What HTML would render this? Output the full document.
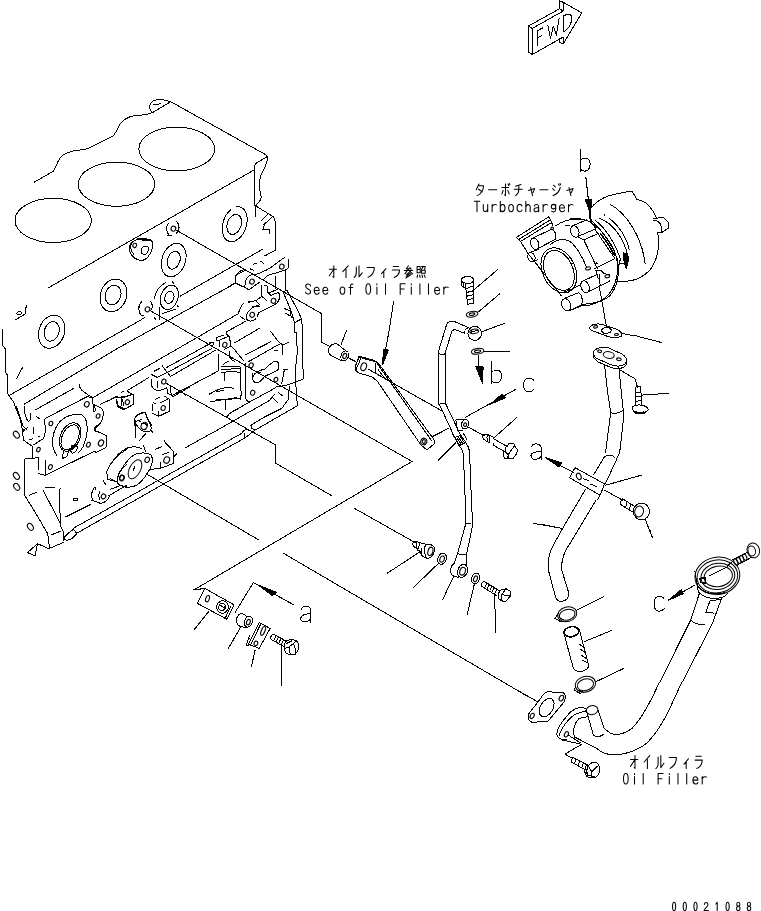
<!DOCTYPE html>
<html><head><meta charset="utf-8"><title>Diagram</title>
<style>
html,body{margin:0;padding:0;background:#fff;}
body{width:761px;height:911px;overflow:hidden;font-family:"Liberation Sans",sans-serif;}
svg{display:block;shape-rendering:crispEdges;}
svg text{font-family:"Liberation Mono",monospace;fill:#000;stroke:none;}
</style></head><body>
<svg width="761" height="911" viewBox="0 0 761 911" fill="none" stroke="#000" stroke-width="1" stroke-linecap="round" stroke-linejoin="round">
<path d="M 532.3 28.4 L 563.1 11.1 L 563.5 2.4 L 581.7 12.9 L 563.1 44.2 L 563.1 37.1 L 532.3 54.5 Z"/>
<path d="M 528.4 26.1 L 559.6 8.7 M 528.4 26.1 L 532.3 28.4 M 528.4 26.1 L 528.4 52.1 L 532.3 54.5 M 559.6 8.7 L 563.1 11.1 M 559.6 8.7 L 559.6 0.8 L 563.5 2.4 M 559.6 38.7 L 559.6 42.3 L 563.1 44.2"/>
<path d="M 537.4 45.8 L 537.4 30.8 L 542.6 27.9 M 537.4 37.9 L 541.3 35.8"/>
<path d="M 547.8 25.3 L 550.5 38.7 L 553.3 26.1 L 556.3 35.1 L 559.1 18.6"/>
<path d="M 563.9 31.6 L 563.9 15.8 C 567.8 13.4 571.7 13.4 571.7 18.2 C 571.7 23.7 567.8 30 563.9 31.6"/>
<ellipse cx="53.2" cy="220.4" rx="38.2" ry="22.1"/>
<ellipse cx="116.5" cy="184.2" rx="38.2" ry="22.1"/>
<ellipse cx="176.7" cy="149" rx="37.9" ry="21.9"/>
<path d="M 34.3 182.1 L 53.1 171.4 C 55.1 168.8 56.3 165.1 58.1 161.3 C 60.1 156.3 66.3 152.6 72.6 151.1 C 77.6 150.1 85.1 150.1 90.1 147.6 L 112.6 136.3 C 115.7 133.8 117.2 128.8 119.7 124.5 C 122.7 120 128.9 116.5 133.9 115.8 C 140.2 115.3 147.7 115 152.7 112.5 L 170.2 102"/>
<path d="M 152.7 112.5 C 149.7 110.5 148.7 106.3 150.7 103.3 C 153.2 99.5 160.2 98.5 170.2 101.5"/>
<path d="M 153.2 105 L 160.2 103.8"/>
<path d="M 171.3 102 L 266.4 155.1"/>
<path d="M 266.4 155.1 C 268.2 157.6 267.7 161.3 265.2 166.3 C 261.4 173.9 258.2 180.1 259.2 187.6 C 260.2 192.6 262.2 196.4 260.7 199.6 L 256.4 205.1"/>
<path d="M 266.4 157.1 L 255.2 163.8 C 254.2 166.3 254.4 168.8 254.4 171.4 L 255.2 216.4"/>
<path d="M 254 170 L 48 288"/>
<path d="M 255.6 205.9 L 273.4 216.7 C 274.7 219.2 275.4 221.7 275.4 224.2 L 275.4 250.4 L 265.9 255.1"/>
<path d="M 268.4 213.4 L 260.9 220.9 M 271.7 217.5 L 263.4 225 M 262.6 229.7 L 269.2 229.7 L 269.2 233.7 M 265.1 224.2 C 263.7 225.4 263.4 227 263.7 228.7"/>
<ellipse cx="234.7" cy="224.2" rx="11.7" ry="18" transform="rotate(19 234.7 224.2)" stroke-dasharray="60 6 40 5 200 8"/>
<ellipse cx="234.2" cy="224.4" rx="7" ry="10.3" transform="rotate(19 234.2 224.4)" stroke-dasharray="120 14 300"/>
<path d="M 176 230 L 321.8 313.8 L 321.8 342.5"/>
<path d="M 262.6 249.2 L 180 296.3"/>
<path d="M 235 283.5 L 120 347"/>
<path d="M 264.9 255.8 L 274.9 250.5"/>
<path d="M 235.4 280.6 L 235.4 275.8 C 237 273.2 239.6 271.1 243.8 269.5"/>
<path d="M 228 286.9 L 234.9 283.2 L 244.9 287.4"/>
<path d="M 244.9 287.4 C 244.9 283.7 245.4 279.5 247.5 277.4 C 249.1 275.3 251.7 274.4 253.8 274.8 M 244.9 287.4 C 247 289.5 249.6 289.8 251.7 287.9 C 254.4 285.8 257.5 283.7 259.6 282.1"/>
<ellipse cx="252" cy="281.6" rx="2.3" ry="2.5" transform="rotate(20 252 281.6)" shape-rendering="geometricPrecision" stroke-width="1.1"/>
<path d="M 253.3 274.8 C 259.6 273.7 264.9 271.1 270.2 267.9 C 275.4 264.2 280.7 260 284.9 257.2"/>
<ellipse cx="281.8" cy="266.6" rx="2.3" ry="2.5" transform="rotate(20 281.8 266.6)" shape-rendering="geometricPrecision" stroke-width="1.1"/>
<path d="M 288.6 259.5 L 288.6 266.9 C 288.1 268.4 286.5 269.5 285.4 270 C 280.7 271.6 273.3 273.7 269.6 274.8 C 267 275.8 264.9 277.4 263.3 279.5"/>
<path d="M 250.1 268.8 L 253.8 270.5 M 253.3 264.2 L 256.5 263.5 M 260.7 261.1 L 263.8 263.7"/>
<path d="M 275.4 276.3 L 275.4 289 M 285.4 270.5 L 286 290.6"/>
<path d="M 261.7 285.8 L 261.7 296.4 L 255.9 300.6 L 248.6 302.2 M 248.6 301.1 L 249.6 302.7 M 261.7 296.4 L 267 300.6 M 255.9 300.6 L 259.6 304.8"/>
<path d="M 264.9 285.3 L 267 285.8 L 267.5 292.2 L 270.7 295.3 M 269.6 292.7 L 278.1 289 M 271.2 295.3 L 277.5 292.7"/>
<path d="M 277.5 292.2 C 280.2 293.2 280.2 297.4 278.6 300.6 C 277 303.7 274.4 305.3 270.2 306.9 L 258.6 312.7 C 258 313.8 258 314.8 257.5 316.4"/>
<ellipse cx="273.5" cy="300.8" rx="2.3" ry="2.5" transform="rotate(20 273.5 300.8)" shape-rendering="geometricPrecision" stroke-width="1.1"/>
<ellipse cx="252.2" cy="314.8" rx="2.3" ry="2.5" transform="rotate(20 252.2 314.8)" shape-rendering="geometricPrecision" stroke-width="1.1"/>
<path d="M 259.6 304.8 C 256.5 305.9 252.8 306.4 250.7 309 C 248 311.6 245.9 315.3 246.4 319 C 248.6 321.7 252.2 321.7 255.4 319"/>
<path d="M 252.8 306.9 L 259.6 306.4"/>
<path d="M 243.8 303.2 C 241.2 305.3 239.6 309 238.5 313.2 M 240.1 316.4 L 244.9 319.5"/>
<path d="M 282.8 291.6 L 287 290.6 M 282.8 291.6 C 287 300.6 291.2 309 294.4 322.7 L 301.3 319"/>
<path d="M 287 290.6 C 291.2 298.5 297.6 309 301.3 318.5 C 302.3 323.8 302.8 334.3 303 346"/>
<path d="M 294.4 322.7 L 294.6 332.2 L 296.3 332.7 L 296.7 346"/>
<path d="M 284.4 308.5 L 290.2 311.1 M 285.4 313.2 L 290.2 315.9 M 290.2 310.1 L 291.2 317.4"/>
<path d="M 228 335.9 L 229.6 336.4 L 230.6 346"/>
<ellipse cx="173.4" cy="228.7" rx="2.3" ry="2.5" transform="rotate(20 173.4 228.7)" shape-rendering="geometricPrecision" stroke-width="1.1"/>
<path d="M 168.4 223.4 C 165.4 226.7 165.9 232.5 169.6 235.4 M 176.7 221.7 C 180.4 225 179.4 230.9 176.1 233.4 M 166.7 236 L 171.7 235"/>
<path d="M 135.9 240 C 131.7 241.7 128.3 245 129.2 250.1 C 130.8 255.1 135 259.2 140 260.4 C 145 260.9 149.2 256.7 151.7 250.1 C 153.4 245 152.5 240.9 150 239.7 C 145 238 140 238.7 135.9 240"/>
<path d="M 137.5 239.4 L 150 239.7" stroke-width="2"/>
<ellipse cx="134.7" cy="245.4" rx="1.8" ry="2.2" transform="rotate(20 134.7 245.4)" shape-rendering="geometricPrecision" stroke-width="1.1"/>
<path d="M 148.4 247.6 C 146.7 245 142.5 245.9 141.4 249.2 C 140.4 252.6 142.5 255.1 145.4 254.2 C 147.5 253.4 148.7 250.9 148.4 247.6"/>
<path d="M 131.7 242.5 C 130 245.9 130.8 250.9 134.2 255.1"/>
<ellipse cx="173.7" cy="260.1" rx="11.7" ry="17.2" transform="rotate(19 173.7 260.1)" stroke-dasharray="150 8 180 10 400"/>
<ellipse cx="173.7" cy="260.2" rx="6.2" ry="9.2" transform="rotate(19 173.7 260.2)" stroke-dasharray="140 12 300"/>
<ellipse cx="169.4" cy="297.3" rx="4.5" ry="6.2" transform="rotate(19 169.4 297.3)"/>
<ellipse cx="169.4" cy="297.3" rx="8.7" ry="12.5" transform="rotate(19 169.4 297.3)" stroke-dasharray="120 25 150 20 400"/>
<path d="M 165.9 282.6 C 160.1 285.1 155.9 290.1 154.2 298.4 M 159.2 307.6 L 159.2 320.1 M 154.2 317.6 L 155.9 319.3 M 172.6 281.8 L 173.4 283.4 M 177.6 305.9 L 178.4 306.8 M 162.6 313.5 L 175.1 309.3"/>
<ellipse cx="147.5" cy="309.3" rx="2.3" ry="2.5" transform="rotate(20 147.5 309.3)" shape-rendering="geometricPrecision" stroke-width="1.1"/>
<path d="M 141.7 301.8 C 137.5 305.9 138.4 311.8 140.9 315.1 L 144.2 315.1 M 150 300.9 C 152.5 303.4 152.5 306.8 151.7 309.3"/>
<path d="M 235.2 283.1 L 235.2 276.8 C 236.8 274.2 240.2 272.6 244.3 270.9 M 235.2 283.1 L 244.3 286.8"/>
<ellipse cx="113.5" cy="295.4" rx="13" ry="16.7" transform="rotate(19 113.5 295.4)" stroke-dasharray="200 10 150 10 400"/>
<ellipse cx="113.1" cy="295" rx="7.7" ry="10" transform="rotate(19 113.1 295)"/>
<ellipse cx="51.7" cy="331.7" rx="12.7" ry="17" transform="rotate(19 51.7 331.7)" stroke-dasharray="230 10 150 12 400"/>
<ellipse cx="51.7" cy="331.4" rx="7.3" ry="10" transform="rotate(19 51.7 331.4)"/>
<path d="M 15 320 L 25 314.2 L 26.4 305 M 16.7 313.4 C 18.4 310.9 21.7 310.9 21.7 313.4 C 20.9 315.4 17.5 315.9 16.7 313.4"/>
<path d="M 2.5 329.2 L 2.5 345.1 L 5 348.4 L 5 371.8 L 8 375.9 L 7.5 393.5 L 13.4 401.8 L 20 418.5 L 22.5 430.2 M 16.7 406.8 L 23.4 426.8 L 26.7 429.3 M 21.7 431 L 27.5 427.7"/>
<path d="M 10 395 L 145 317.5"/>
<path d="M 24.2 404.2 L 120 347"/>
<path d="M 35 410.1 L 73.4 388.5"/>
<path d="M 45.1 418.5 L 86.8 396.8 L 93.5 397.6"/>
<path d="M 79.3 384.3 C 79.3 389.3 83.4 391.8 88.4 395.1 L 93.5 397.6"/>
<path d="M 16.7 378.4 L 22.5 367.6 M 24.2 406.8 C 24.2 413.5 25.9 418.5 28.4 421.8 L 30.9 419.3 L 30.9 413.5 M 35.9 416 L 39.2 418.5"/>
<path d="M 45.1 418.5 C 44.2 421.8 45.1 426.8 45.9 432"/>
<ellipse cx="50.9" cy="423.5" rx="1.8" ry="2.3" transform="rotate(25 50.9 423.5)" shape-rendering="geometricPrecision" stroke-width="1.1"/>
<ellipse cx="86.8" cy="404.3" rx="2.3" ry="2.8" transform="rotate(25 86.8 404.3)" shape-rendering="geometricPrecision" stroke-width="1.1"/>
<ellipse cx="98.1" cy="416" rx="1.8" ry="2.3" transform="rotate(25 98.1 416)" shape-rendering="geometricPrecision" stroke-width="1.1"/>
<path d="M 92.6 397.6 L 93.5 411.8 L 96 410.1 L 93.5 404.3 L 101.8 408.5 C 104.3 411.8 103.5 418.5 100.1 423.5 L 95.1 428.5 L 96 432"/>
<path d="M 100.1 404.3 L 115.2 397.6 L 123.5 396.8 M 116.8 399.3 L 117.7 405.1 L 123.5 408.5 L 126.8 408.5 M 122.7 399.3 L 123.5 405.1"/>
<path d="M 22.5 430 L 23.4 440 L 31.7 445.9"/>
<path d="M 32.5 446.7 L 32.5 458.4 L 25 458.7 L 24.7 495.4 L 35.9 513.5 L 47.6 533.5 L 49.7 548.5"/>
<path d="M 27.5 552.5 L 37.5 543.7 L 48.7 548.7 L 63.3 542.5 M 37.5 543.7 L 35 556 L 27.5 552.5"/>
<path d="M 45.6 431.7 C 44.7 433.4 44.2 435.9 43.7 438.4 L 33.4 445"/>
<path d="M 25 430 L 23.4 431.7 M 33.4 427.5 L 33.4 433.4 M 29.2 440 L 32.5 438.7 M 38 435.9 L 39.2 436.7"/>
<path d="M 32.5 458.4 L 38.4 457.6 L 38.7 469.2 M 38 473.4 L 45.1 475.4 L 45.1 460.1"/>
<path d="M 45.1 475.4 L 95.1 450.9 L 96 452.6 L 106 447.6 L 106.8 435.9 L 100.1 432.5 L 95.1 430.9 L 94.3 427.5 L 100.1 423.4"/>
<ellipse cx="38.4" cy="449.6" rx="1.7" ry="2.3" transform="rotate(25 38.4 449.6)" shape-rendering="geometricPrecision" stroke-width="1.1"/>
<ellipse cx="50.4" cy="467.1" rx="1.8" ry="2.5" transform="rotate(25 50.4 467.1)" shape-rendering="geometricPrecision" stroke-width="1.1"/>
<ellipse cx="88.4" cy="444.7" rx="1.8" ry="2.5" transform="rotate(25 88.4 444.7)" shape-rendering="geometricPrecision" stroke-width="1.1"/>
<ellipse cx="101" cy="443" rx="2.5" ry="3.2" transform="rotate(25 101 443)" shape-rendering="geometricPrecision" stroke-width="1.1"/>
<path d="M 56.7 455.1 C 50.1 446.7 51.7 433.4 58.4 423.4 C 64.3 415.9 73.4 413.3 81.8 415 C 87.6 418.4 88.4 428.4 85.9 438.4 C 84.3 445 81.8 450.1 78.4 452.6"/>
<ellipse cx="70.1" cy="437" rx="9.7" ry="15" transform="rotate(25 70.1 437)" stroke-dasharray="300 40 400"/>
<ellipse cx="70.1" cy="437.4" rx="8" ry="13.3" transform="rotate(25 70.1 437.4)" stroke-dasharray="280 60 400"/>
<path d="M 63.4 450.1 L 62.6 458.4 L 66.8 456.7 L 69.3 448.4 M 71.8 445.9 C 74.3 444.2 76.8 445 77.6 447.6 C 77.1 450.9 74.3 453.4 71.8 453.1 C 70.4 450.9 70.4 448.4 71.8 445.9"/>
<ellipse cx="16.4" cy="434.7" rx="2.5" ry="3.8" transform="rotate(-35 16.4 434.7)" shape-rendering="geometricPrecision" stroke-width="1.1"/>
<ellipse cx="16.4" cy="475.9" rx="2.5" ry="3.8" transform="rotate(-35 16.4 475.9)" shape-rendering="geometricPrecision" stroke-width="1.1"/>
<ellipse cx="16.7" cy="486.8" rx="2.5" ry="3.8" transform="rotate(-35 16.7 486.8)" shape-rendering="geometricPrecision" stroke-width="1.1"/>
<ellipse cx="30.4" cy="526.8" rx="2.5" ry="3.8" transform="rotate(-35 30.4 526.8)" shape-rendering="geometricPrecision" stroke-width="1.1"/>
<path d="M 45.9 487.6 C 49.2 486.8 52.6 487.1 55.1 488.1 M 60.1 488.4 C 58.7 500.1 60.1 513.5 60.9 526.8 L 63.4 531.8 L 63.4 540.2 M 43.4 490.9 L 60.9 524.3 M 29.2 495.4 L 36.7 492.1 M 51.7 534.8 L 60.9 531"/>
<path d="M 65.9 516.8 L 91 504.3"/>
<path d="M 64.3 537.7 C 65.9 534.3 70.1 531.8 73.4 529.3 L 76.8 533.5 C 74.3 536.8 70.1 540.2 66.8 540.2 C 65.1 539.8 64.3 538.8 64.3 537.7"/>
<path d="M 73.4 498.4 L 77.6 498.4 L 77.6 500.4 L 73.4 500.4 Z"/>
<ellipse cx="103.5" cy="496.4" rx="2.2" ry="2.5" transform="rotate(25 103.5 496.4)" shape-rendering="geometricPrecision" stroke-width="1.1"/>
<path d="M 91 500.1 L 96.8 501.8 C 100.1 504.3 104.3 503.4 108.5 498.4 L 110.1 495.1 M 94.3 487.6 C 91.8 490.9 91 495.9 92.6 500.1 M 100.1 490.9 C 98.5 493.4 98.5 496.8 100.1 500.1 M 95.1 486.8 L 96 490.1 M 103.5 480.9 L 106 485.1"/>
<ellipse cx="121.8" cy="477.6" rx="2.2" ry="2.7" transform="rotate(25 121.8 477.6)" shape-rendering="geometricPrecision" stroke-width="1.1"/>
<path d="M 106.8 471.7 C 110.1 463.4 116.8 455.1 126.8 449.2 M 106.8 471.7 L 107.6 479.3 L 116.8 481.8 M 116.8 481.8 C 117.7 475.1 121.8 468.4 126.8 464.2 M 116.8 481.8 L 119.3 485.1 L 126.8 486.8 M 108.5 495.9 L 126.8 485.1"/>
<path d="M 127.4 390.6 L 149 377.4 M 127.4 390.6 C 127.9 392.2 130 393.2 132.7 394.3"/>
<path d="M 110 399.5 L 116.3 396.4 L 121.6 398 M 116.3 399.5 L 116.3 403.2 M 121.6 398 L 121.6 405.9 M 117.4 406.4 L 123.7 409.6 L 133.7 404.3 L 133.7 394.8 M 121.6 398 L 132.7 394.3 M 121.1 392.7 L 123.7 391.1"/>
<ellipse cx="127.4" cy="402.2" rx="2.1" ry="2.5" transform="rotate(25 127.4 402.2)" shape-rendering="geometricPrecision" stroke-width="1.1"/>
<path d="M 151.1 374.3 L 157.4 377.4 L 167.4 372.2 M 154.3 371.1 L 159.5 368.5 M 151.6 379.5 L 151.6 385.9 C 153.2 389 156.4 390.6 159.5 390.6 L 165.9 388.5 M 157.4 381.1 L 157.4 388"/>
<ellipse cx="163.8" cy="381.6" rx="2.1" ry="2.5" transform="rotate(25 163.8 381.6)" shape-rendering="geometricPrecision" stroke-width="1.1"/>
<path d="M 162.2 365.3 C 163.8 369 167.4 372.2 170.6 376.4"/>
<path d="M 166.9 387.4 L 167.4 393.2 L 173.2 396.4 L 190.1 386.9 M 170.6 386.4 L 171.1 394.8"/>
<path d="M 152.2 404.8 L 152.2 411.1 M 152.2 413.2 L 158.5 416.4 L 169.6 411.1 L 169.6 399.5 L 164.8 396.4 M 158.5 416.4 L 159 411.1 M 155.3 399.5 L 159.5 397.4 M 153.2 402.7 L 155.3 403.8 M 160.6 402.7 L 168.5 398.5"/>
<ellipse cx="163.2" cy="408" rx="2.1" ry="2.5" transform="rotate(25 163.2 408)" shape-rendering="geometricPrecision" stroke-width="1.1"/>
<path d="M 134.2 426 C 133.7 421.7 134.2 418.5 135.8 416.4 L 142.7 412.2 L 145.8 412.7 L 146.9 417.5 L 152.2 426 M 136.4 421.2 L 141.6 419.6 M 141.6 423.8 C 143.7 422.7 145.8 423.3 146.9 426"/>
<path d="M 218.5 354.2 L 218.5 370.9 L 172.6 395.1"/>
<path d="M 209.3 394.2 C 216.8 389.2 226.8 385.9 233.5 388.4 M 210.1 401.7 L 236.8 397.6 M 225.2 400.1 L 225.2 410.1 M 216.8 391.7 L 223.5 390.1 M 226.8 416.8 C 229.3 413.4 232.7 410.9 236.8 409.2"/>
<path d="M 134.2 420.1 C 135 415.9 139.2 413.1 145 412.6 L 147.5 418.4 L 151.7 428.4 L 149.2 431.8 L 141.7 430.9 L 135 423.4 Z M 135 420.1 L 135 438.4 M 139.2 440.9 L 145.9 433.4 M 137.5 420.1 L 140.9 421.8 M 151.7 430.9 L 152.6 432.6"/>
<ellipse cx="144.2" cy="425.9" rx="3" ry="3.7" transform="rotate(25 144.2 425.9)" shape-rendering="geometricPrecision" stroke-width="1.1"/>
<ellipse cx="166.7" cy="460.1" rx="2.8" ry="3.3" transform="rotate(25 166.7 460.1)" shape-rendering="geometricPrecision" stroke-width="1.1"/>
<path d="M 155.1 449.3 L 161.7 446.8 M 164.2 440.9 C 166.7 445.1 170.9 447.6 173.4 451.8 L 174.3 456.8 L 176.8 453.5 M 173.4 451.8 L 173.4 463.5 L 160.1 468.5 L 150.1 469.3 M 160.1 468.5 L 160.1 461.8 M 162.6 454.3 L 168.4 452.6"/>
<path d="M 110 465.1 C 115 456.8 121.7 450.1 128.4 447.6 C 133.4 446.5 138.4 446.8 141.7 448.5 M 143.4 445.9 L 145.9 451.8"/>
<path d="M 117.5 476.8 C 120 470.1 126.7 460.1 133.4 455.1 C 138.4 452.6 146.7 451.8 150.9 455.1 C 153.4 458.5 152.6 463.5 150.1 468.5 C 146.7 475.1 141.7 481.8 136.7 485.2 C 130 488.5 121.7 487.7 118.3 483.5 C 117 481.5 117 479.3 117.5 476.8"/>
<ellipse cx="135" cy="469.3" rx="5.5" ry="10.3" transform="rotate(28 135 469.3)"/>
<ellipse cx="147.2" cy="459.8" rx="2.2" ry="2.7" transform="rotate(25 147.2 459.8)" shape-rendering="geometricPrecision" stroke-width="1.1"/>
<ellipse cx="122" cy="478.2" rx="2.2" ry="2.7" transform="rotate(25 122 478.2)" shape-rendering="geometricPrecision" stroke-width="1.1"/>
<path d="M 135 466 L 133.4 470.1 M 110 478.5 L 116.7 481.8 M 110 489.3 L 121.7 485.2"/>
<path d="M 237.4 314.2 L 93.3 397.5"/>
<path d="M 245.9 321.1 L 226.9 331.6"/>
<path d="M 212.7 342.1 L 165.9 367.9 M 211.6 348.5 L 169 371.6 M 215.8 350 L 170.6 376.4"/>
<path d="M 212.7 342.2 C 213.7 343.2 213.7 344.3 212.7 345.3 M 209.5 342.7 L 212.1 341.9"/>
<path d="M 226.9 331.6 L 226.4 333.7 L 229.5 336.9"/>
<ellipse cx="224.8" cy="344.8" rx="2.1" ry="2.5" transform="rotate(25 224.8 344.8)" shape-rendering="geometricPrecision" stroke-width="1.1"/>
<path d="M 216.4 339.5 L 216.9 337.4 L 223.2 335.3 M 216.4 340.6 L 219 340.6 L 219.5 346.4 M 219 340.6 L 226.9 336.9 L 229.5 336.9 L 230.6 346.4 L 224.3 349.5"/>
<path d="M 230.6 346.4 L 232.7 347.4 L 243.8 361.1 M 229 350.6 L 229.5 356.9 L 232.7 360.6 L 234.8 361.1"/>
<path d="M 234.8 342.7 L 260.1 327.9"/>
<ellipse cx="251.1" cy="365.3" rx="2.1" ry="2.5" transform="rotate(25 251.1 365.3)" shape-rendering="geometricPrecision" stroke-width="1.1"/>
<path d="M 245.9 363.2 L 245.9 396 M 241.1 396 L 240.6 367.4 L 239 366.4 L 221.1 366.9 M 221.1 369.5 L 240.6 368.5 M 223.2 364.3 L 228.5 361.1 M 221.1 372.2 L 234.8 371.7 L 240.6 372.7 M 224.3 372.7 L 224.3 380.6"/>
<path d="M 180 390.6 L 186.3 396"/>
<path d="M 252.7 373.8 C 251.7 378 252.7 381.1 255.9 382.7 L 260.1 381.7 M 258 371.7 L 260.1 372.7"/>
<ellipse cx="252.7" cy="392.7" rx="2.1" ry="2.5" transform="rotate(25 252.7 392.7)" shape-rendering="geometricPrecision" stroke-width="1.1"/>
<path d="M 297.4 346 L 297.6 350 L 295.1 371.7 L 295.1 383.4 C 295.9 386.7 296.8 388.4 296.8 390.1 L 297.1 405.9 L 255.1 430.1"/>
<path d="M 302.6 346 L 302.6 363.4 L 303.4 373.4 L 303.1 379.2 L 288.4 384.7 L 275.9 387.1"/>
<path d="M 228.4 414.3 L 248.4 402.6 L 275.9 387.6"/>
<path d="M 215 431.4 L 270.1 400.1 C 270.9 397.6 272.6 395.9 275.1 394.2"/>
<path d="M 244.2 438.5 L 255.1 430.1 M 250.9 425.1 L 251.7 428.4 L 255.1 430.1 M 250.9 425.1 L 263.4 417.6 L 281.8 408.4 L 288.4 399.2 L 289.3 386.7"/>
<path d="M 241.7 433.4 C 243.4 430.1 245.9 429.3 248.4 430.1 M 244.2 438.5 L 245 433.4 M 272.6 397.6 L 277.6 402.6 M 278.4 392.6 L 282.6 395.9"/>
<path d="M 245 355 L 270.9 341.7 M 248.4 361.7 L 279.3 344.2"/>
<path d="M 270.9 331.7 L 277.6 340.8 L 282.6 345 L 288.4 342.5 M 282.6 345 L 282.6 354.2 M 274.2 350 L 277.6 350"/>
<path d="M 245.9 395.1 L 245.9 399.2 L 248.4 401.7 M 240.9 395.1 L 240.9 399.2 M 215 400.1 L 240.9 398.4 M 225.8 400.1 L 225.8 409.3"/>
<ellipse cx="275.9" cy="379.6" rx="1.8" ry="2.3" transform="rotate(25 275.9 379.6)" shape-rendering="geometricPrecision" stroke-width="1.1"/>
<path d="M 253.4 375.9 C 255.1 372.5 260.1 370 265.1 369.2 C 268.4 365.9 271.7 361.7 275.9 360.9 C 279.3 361.7 279.3 365.9 278.4 369.2 C 275.1 372.5 270.1 374.2 265.1 375.9 C 262.6 379.2 259.2 382.6 255.9 383.1 C 252.5 381.7 252 378.4 253.4 375.9"/>
<path d="M 283.4 370 L 287.6 369.2 M 284.3 370 L 281.8 383.4"/>
<path d="M 150 310.5 L 412 461.5"/>
<path d="M 166.5 383.5 L 275.8 445 L 275.8 463.3"/>
<path d="M 73.3 528.3 L 241.7 433.3"/>
<path d="M 76.7 533.3 L 244.2 438.3"/>
<path d="M 185 448 L 215 431.3"/>
<path d="M 146.3 473.8 L 258.8 540"/>
<path d="M 412 461.5 L 193.8 590"/>
<path d="M 193.3 590 L 205 588.4 L 234.2 605 L 226.7 619.2 L 197.5 603.4 L 205 588.4 M 230.9 605.9 L 225.1 618.4"/>
<ellipse cx="207.5" cy="598.7" rx="1.8" ry="3.3" transform="rotate(20 207.5 598.7)" shape-rendering="geometricPrecision" stroke-width="1.1"/>
<ellipse cx="222.5" cy="607" rx="5.8" ry="6.3" transform="rotate(20 222.5 607)"/>
<ellipse cx="222" cy="607" rx="3.3" ry="3.8" transform="rotate(20 222 607)"/>
<path d="M 224.2 605.9 C 225.9 607.5 225.1 610 223 610 M 220 605 L 225.1 608.4" stroke-width="1"/>
<path d="M 209.2 610.9 L 194.2 629.7"/>
<path d="M 235.1 612.5 L 253.4 582.5 L 293.5 604.7"/>
<path d="M 258.1 585 L 276.5 592.4 L 272.1 595.5 Z" fill="#000"/>
<ellipse cx="248.4" cy="621.7" rx="4" ry="5.5" transform="rotate(20 248.4 621.7)"/>
<ellipse cx="248.4" cy="622.1" rx="1.8" ry="2.8" transform="rotate(20 248.4 622.1)" shape-rendering="geometricPrecision" stroke-width="1.1"/>
<path d="M 247.1 616.6 L 241.7 613 C 237.6 614.2 235.6 618.4 236.7 622.6 C 237.6 625.4 239.7 626.7 243.1 627.1 L 247.1 627.2"/>
<path d="M 240.9 626.7 L 228.4 648.4"/>
<path d="M 259.3 622.6 L 270.1 628.4 L 259.3 648.4 L 248.4 644.2 L 259.3 622.6 M 260.9 623.7 L 250.4 645.1"/>
<ellipse cx="263.1" cy="630.9" rx="1.8" ry="4.7" transform="rotate(22 263.1 630.9)" shape-rendering="geometricPrecision" stroke-width="1.1"/>
<ellipse cx="255.9" cy="643.4" rx="1.8" ry="2.3" transform="rotate(20 255.9 643.4)" shape-rendering="geometricPrecision" stroke-width="1.1"/>
<path d="M 249.3 635.9 L 247.6 641.7 L 245.9 645.1 L 248.4 645.9 M 248.4 638.4 L 250.9 639.2"/>
<path d="M 255.1 650.1 L 251.4 666.8"/>
<path d="M 273.4 634.2 L 286 640.9 M 270.9 639.2 L 283.5 646.4 M 273.4 634.2 C 271.4 635.1 270.4 637.1 270.9 639.2 M 276 635.6 L 273.8 640.7 M 278.5 636.9 L 276.3 642.1 M 281 638.2 L 278.8 643.6 M 283.5 639.6 L 281.3 644.9"/>
<path d="M 284.8 643.4 C 285.1 640.1 291.8 638.4 296.5 640.9 C 300.2 644.2 299.3 650.9 295.1 654.3 C 290.1 655.9 285.5 654.3 284.6 650.1 Z M 285.1 648.4 L 289.3 646.8 L 290.1 653.4 M 289.3 646.8 L 293.5 643.4 L 296.5 640.9 M 293.5 643.4 L 295.1 648.4 L 295.1 654.3 M 286.8 643.4 L 291.8 640.9"/>
<path d="M 281.5 645.9 L 281.5 685.1"/>
<path d="M 321.7 342.5 L 330 346.7"/>
<ellipse cx="344.7" cy="355.9" rx="3.7" ry="5" transform="rotate(20 344.7 355.9)"/>
<ellipse cx="344.7" cy="356" rx="1.8" ry="2.7" transform="rotate(20 344.7 356)" shape-rendering="geometricPrecision" stroke-width="1.1"/>
<path d="M 345.9 350.9 L 337.5 344.2 C 333.4 343 329.2 345 328.4 350 C 328.4 353.4 330 355 331.7 355.9 L 341.7 360.9"/>
<path d="M 346.7 330 L 340.9 345 M 349.2 358.4 L 355.9 361.7"/>
<path d="M 355.1 366.7 L 359.2 356.7 M 355.1 366.7 C 354.7 369.2 355.9 371.7 358.7 373 L 371.7 376.7 L 377.1 380.9 L 421 445.1 L 426.8 449.8 L 434.8 443.5 L 434.3 440.1 L 380.9 366.7 C 379.3 364.2 376.7 361.7 374.2 360.9"/>
<path d="M 359.2 356.7 L 374.2 360.9" stroke-width="2"/>
<path d="M 358.7 373 C 356.7 371.7 356.4 369.2 357.1 367 L 360.9 358.4"/>
<ellipse cx="363.7" cy="366.7" rx="2.7" ry="4" transform="rotate(20 363.7 366.7)" shape-rendering="geometricPrecision" stroke-width="1.1"/>
<path d="M 375.1 363.4 L 375.1 372.5 M 377.1 363.4 L 431.8 441 M 378.4 370 L 385.9 380.1"/>
<ellipse cx="423.8" cy="441.5" rx="3" ry="3.3" transform="rotate(20 423.8 441.5)" shape-rendering="geometricPrecision" stroke-width="1.1"/>
<ellipse cx="423.8" cy="441.5" rx="1.5" ry="1.8" transform="rotate(20 423.8 441.5)" shape-rendering="geometricPrecision" stroke-width="1.1"/>
<path d="M 389.3 330 L 382.6 364.2"/>
<path d="M 382.6 365 L 383.4 349.2 L 388.4 350 Z" fill="#000"/>
<path d="M 368.4 369.2 L 441.8 410.9 M 432.7 436.8 L 441.8 432.1"/>
<ellipse cx="467.6" cy="280" rx="6.2" ry="3.5"/>
<path d="M 461.4 280 L 461.7 285.9 L 465.9 288.7 L 473.4 285.9 L 473.7 280 M 465.9 288.7 L 465.9 283.4 M 465.9 288.7 L 467.6 304.2 L 473.4 303.4 L 473.1 285.9 M 466.4 292.5 L 473.4 290.9 M 466.7 296.2 L 473.4 294.7 M 467.2 299.9 L 473.4 298.6 M 463.7 282.5 L 463.7 287"/>
<path d="M 472.6 290.9 L 497.6 269.7"/>
<ellipse cx="472.1" cy="314.2" rx="5.8" ry="2.8" transform="rotate(-10 472.1 314.2)"/>
<ellipse cx="472.1" cy="314.2" rx="2.8" ry="1.2" transform="rotate(-10 472.1 314.2)" shape-rendering="geometricPrecision" stroke-width="1.1"/>
<path d="M 477.6 312.6 L 499.8 293.7"/>
<path d="M 438.4 351.8 L 446.7 324.2 C 447.5 321.7 451.7 320.9 455.9 322.1 L 468.4 327.6 M 445 353.4 L 451.7 331.8 C 452.5 329.8 454.2 329.3 456.4 330.1 L 464.7 333.4 M 438.4 351.8 C 440 355.4 443.4 355.4 445.4 353.4 M 468.4 327.6 C 465.9 328.4 464.2 330.9 464.7 333.4"/>
<ellipse cx="474.7" cy="333.4" rx="6.8" ry="7"/>
<ellipse cx="474.2" cy="331.4" rx="4.5" ry="2.2" transform="rotate(-10 474.2 331.4)"/>
<path d="M 470.1 332.6 L 477.6 330.1 M 471.7 330.1 L 471.7 333.4"/>
<path d="M 481.7 331.8 L 505.1 323.1"/>
<ellipse cx="477.6" cy="351.3" rx="6.2" ry="2.8" transform="rotate(-8 477.6 351.3)"/>
<ellipse cx="477.6" cy="351.3" rx="3.2" ry="1.2" transform="rotate(-8 477.6 351.3)" shape-rendering="geometricPrecision" stroke-width="1.1"/>
<path d="M 483.4 351.8 L 510.1 351.8"/>
<path d="M 478.4 355.1 L 478.7 366.8"/>
<path d="M 475.9 366.8 L 483.1 366.8 L 482.6 383.5 Z" fill="#000"/>
<path d="M 491.4 361 L 491.4 383.5 M 491.4 374.3 C 491.8 369.3 501.4 367.6 501.4 376 C 501.4 385.1 491.8 384.3 491.4 379.3"/>
<path d="M 533.5 380.1 C 530.1 376.5 523.5 377.6 523.5 385.1 C 523.5 392.7 530.1 393.5 533.5 389.8"/>
<path d="M 438.7 380 L 438.7 404.2 L 439.7 405 L 455.1 438.4 L 459.2 445.9 C 461.7 448.4 463.1 450.9 463.4 455.1 L 465.1 496.8 L 465.4 500.1"/>
<path d="M 445.5 380 L 445.5 403.4 L 460.1 434.2 L 465.9 442.6 C 468.1 445.9 469.2 448.4 469.6 451.7 L 470.9 488.5 L 471.7 500.1"/>
<path d="M 438.7 404.2 L 445.5 403.4"/>
<path d="M 454.2 437.6 L 461.7 435.1 M 458.4 445.9 L 465.9 442.6 M 455.4 438.7 L 459.7 445.4 M 457.1 438.1 L 461.4 444.7 M 458.7 437.4 L 463.1 444.1 M 460.4 436.7 L 464.7 443.4 M 452.6 433.4 L 454.2 437.6 M 463.4 433.4 L 466.7 439.2"/>
<ellipse cx="465.1" cy="424.2" rx="3.5" ry="4.7" transform="rotate(20 465.1 424.2)"/>
<ellipse cx="465.1" cy="424.7" rx="1.5" ry="1.8" transform="rotate(20 465.1 424.7)" shape-rendering="geometricPrecision" stroke-width="1.1"/>
<path d="M 455.9 420 L 463.4 419.5 M 457.6 430.1 L 463.1 430.1 M 455.9 420 L 457.6 430.1"/>
<path d="M 465.1 417.5 L 516 389.2"/>
<path d="M 489.8 404.5 L 502.1 394 L 505.5 397.7 Z" fill="#000"/>
<path d="M 467.6 426.7 L 484.3 435.9 M 493.4 438.4 L 516.8 417.5"/>
<path d="M 433.4 435.9 L 449.2 428.1 M 455.9 442.6 L 438 460.6"/>
<path d="M 438.4 352 L 438.4 381 M 445.4 352 L 445.4 381"/>
<path d="M 393.7 301 L 389 331"/>
<path d="M 516.3 237.5 L 548.9 216.7 L 553.1 225.9 M 518.3 239.7 L 550.6 219.7 M 520.5 241.4 L 551.7 222.5 M 516.3 237.5 L 520.5 241.4 L 528 253.4"/>
<ellipse cx="534.7" cy="243.7" rx="4" ry="5.8" transform="rotate(-20 534.7 243.7)"/>
<path d="M 533 238 L 551.7 229.2 M 536.7 249.2 L 555.6 239.2 M 552.2 229.2 C 555.6 231.7 556.4 235.9 555.6 239.2"/>
<ellipse cx="552.2" cy="228.4" rx="1.3" ry="1.3" shape-rendering="geometricPrecision" stroke-width="1.1"/>
<ellipse cx="531.4" cy="257.1" rx="3.5" ry="4.7" transform="rotate(-20 531.4 257.1)"/>
<path d="M 530 252.6 L 538.9 249.2 M 533 261.7 L 537.7 259.7"/>
<ellipse cx="574.8" cy="231.4" rx="4" ry="6" transform="rotate(-20 574.8 231.4)"/>
<path d="M 573.1 225.5 L 586.4 220 M 576.8 237 L 594.8 229.2"/>
<ellipse cx="585.1" cy="286.8" rx="4" ry="6.2" transform="rotate(-20 585.1 286.8)"/>
<path d="M 583.4 280.9 L 597.3 274.3 M 587.1 292.6 L 609.8 280.9"/>
<ellipse cx="566.1" cy="304.8" rx="4.3" ry="6.3" transform="rotate(-20 566.1 304.8)"/>
<path d="M 564.4 298.4 L 578.9 292.6 M 568.4 311 L 581.4 306 M 578.9 292.6 C 582.3 295.1 583.1 301.8 581.4 306"/>
<ellipse cx="558.9" cy="270.4" rx="16.4" ry="23.7" transform="rotate(-25 558.9 270.4)"/>
<ellipse cx="558.9" cy="270.4" rx="14" ry="21" transform="rotate(-25 558.9 270.4)"/>
<ellipse cx="558.9" cy="270.4" rx="15.2" ry="22.4" transform="rotate(-25 558.9 270.4)" stroke-dasharray="0 180 130 160 150 400"/>
<path d="M 550.6 244.2 C 556.4 239.7 563.1 238.4 568.9 240.9 C 574.8 244.2 581.4 255.1 586.4 266.7"/>
<path d="M 555.6 225.9 C 561.4 221.7 571.4 218.4 581.4 219.2 L 588.1 220.9"/>
<path d="M 588.1 220.9 C 601.5 228.4 614.8 245.1 617.3 261.7 C 619 275.1 614.8 288.4 606.5 296.8 C 598.1 303.5 588.1 306 581.4 306"/>
<path d="M 528 253.4 L 561.4 295.9 M 534.7 261.7 L 558.1 291.8 C 561.4 293.8 566.4 291.8 574.8 287.6 L 580.1 284.8"/>
<path d="M 578.9 237.5 L 583.9 240 L 597.3 268.4 M 594.8 229.2 L 614.8 258.4 L 593.9 269.2 M 583.9 240 L 598.1 233.4"/>
<ellipse cx="588.1" cy="268.4" rx="2.5" ry="1.5" transform="rotate(-10 588.1 268.4)" shape-rendering="geometricPrecision" stroke-width="1.1"/>
<ellipse cx="607.3" cy="276.3" rx="2.3" ry="1.5" transform="rotate(-10 607.3 276.3)" shape-rendering="geometricPrecision" stroke-width="1.1"/>
<path d="M 594.8 270.1 L 601.5 270.9 L 604 273.4 L 609.8 275.1 M 599 273.4 L 600.1 285.1 M 596.4 271.8 L 598.1 278.4 M 599 285.1 L 606.5 326.8"/>
<path d="M 564.7 225 L 569.7 225.9 M 583.9 240.9 L 584.8 242.6 M 596.4 262.6 L 597.3 263.7"/>
<path d="M 589.8 327.6 C 591.4 324.3 596.4 323.5 601.5 324.3 L 614.8 328.5 C 620.6 331 623.2 333.5 621.5 336 C 618.1 338.2 611.5 337.7 606.5 336 L 593.1 331 C 590.6 330.1 589.4 329.3 589.8 327.6"/>
<ellipse cx="606.5" cy="330.5" rx="4.7" ry="2.8" transform="rotate(-5 606.5 330.5)"/>
<ellipse cx="595.6" cy="326.8" rx="2" ry="1.2" transform="rotate(-15 595.6 326.8)" shape-rendering="geometricPrecision" stroke-width="1.1"/>
<ellipse cx="616.5" cy="334.5" rx="2" ry="1" transform="rotate(-5 616.5 334.5)" shape-rendering="geometricPrecision" stroke-width="1.1"/>
<path d="M 622.3 333.5 L 634.8 336"/>
<path d="M 590.9 208.4 C 596.7 200 608.4 194.2 625.1 192.5 L 627.6 191.4 L 632.6 192 L 636.8 199.2 C 643.4 200.9 648.4 203.4 653.4 211.7 L 656.8 218.4"/>
<path d="M 653.4 218.4 L 663.5 217.6 L 668.8 223.1 L 668.5 228.1 L 661 233.1 L 657.6 232.1 M 653.4 220.9 C 656.8 219.7 660.1 221.7 661.5 226.7 L 661 233.1"/>
<path d="M 657.6 232.1 C 660.1 243.4 658.4 258.4 650.1 270.1 C 641.8 278.5 630.1 282.6 618.4 281"/>
<path d="M 610.1 204.2 C 626.7 213.4 641.8 236.7 645.1 263.4 M 600 218.4 C 613.4 223.4 625.1 240.1 628.4 258.4 M 609.2 218.4 C 618.4 225.1 626.7 236.7 629.2 250.1 M 604.2 214.7 L 605 215.9"/>
<path d="M 592.5 221.7 C 603.4 231.7 613.4 246.8 617.6 260.1 M 595 220.1 C 605.9 228.4 616.7 245.1 620.9 260.9"/>
<path d="M 600.9 234.2 C 605.9 240.1 610.9 248.4 614.2 255.1" stroke-width="1.6"/>
<path d="M 623.1 252.6 L 627.1 254.3 L 628.4 260.1 L 626.4 268.4 L 624.7 264.3 L 623.4 258.4 Z" fill="#000"/>
<path d="M 618.4 264.3 L 623.4 263.4 M 620.1 260.1 L 618.4 266.8"/>
<path d="M 585.9 177.5 L 588.4 200"/>
<path d="M 585.4 200 L 592 199.7 L 590.4 213.7 Z" fill="#000"/>
<path d="M 589.5 212.5 L 590.9 222.1" stroke-width="2"/>
<path d="M 616.7 260.1 C 620.1 270.1 618.4 283.5 611.7 293.5 C 606.7 300.1 595 303.5 583.4 304.3 L 570 310.2"/>
<path d="M 570 218.4 C 575 217.6 580 218.4 585 220.1 L 590.9 221.7 C 592.5 225.1 594.2 226.7 595.9 228.4"/>
<path d="M 634.6 335.5 L 661.4 342.5"/>
<path d="M 593.8 351.3 C 596.3 347.5 602.6 347 608.8 348 L 621.4 353.8 C 626.4 356.3 627.6 360 625.1 363.8 C 621.4 367.1 615.1 366.3 610.1 364.5 L 597.6 358.8 C 593.8 357 593.1 353.8 593.8 351.3"/>
<path d="M 593.3 352.5 L 593.8 357.5 L 598.1 362 L 611.3 367.6 C 617.6 369.6 623.9 368.8 626.4 364.5 L 626.4 360"/>
<ellipse cx="608.8" cy="355" rx="5.5" ry="3.3" transform="rotate(10 608.8 355)"/>
<ellipse cx="599.6" cy="351.3" rx="2" ry="1.3" transform="rotate(10 599.6 351.3)" shape-rendering="geometricPrecision" stroke-width="1.1"/>
<ellipse cx="618.9" cy="359.3" rx="2.3" ry="1.3" transform="rotate(10 618.9 359.3)" shape-rendering="geometricPrecision" stroke-width="1.1"/>
<path d="M 604.6 365 L 607.6 392.6 L 610.8 412.6 L 607.1 440.1 L 605.6 452.6 M 618.9 367.1 L 622.6 405.1 L 623.9 415.1 L 620.6 445.1 L 619.6 452.6 M 610.8 412.6 C 613.8 413.9 618.9 413.1 622.6 410.6"/>
<path d="M 619.6 452.6 L 615.1 462.7 M 603.8 457.2 C 607.6 454.1 612.6 454.6 615.1 458.2"/>
<path d="M 604.6 456.4 L 593.8 474.7 M 585.1 489.7 L 579.3 500.2 M 615.1 462.7 L 605.6 483.2 M 600.1 495.2 L 597.1 500.2"/>
<path d="M 620.1 370.1 L 635.1 378.8 L 637.6 387.6"/>
<path d="M 635.1 387.6 L 635.6 405.1 M 640.6 387.1 L 641.9 405.1 M 635.1 387.6 C 636.4 385.6 639.4 385.6 640.6 387.1 M 635.4 392.6 L 641.1 391.8 M 635.4 397.1 L 641.4 396.3 M 635.6 401.3 L 641.6 400.6"/>
<ellipse cx="640.1" cy="408.8" rx="8" ry="3.8" transform="rotate(5 640.1 408.8)"/>
<path d="M 633.1 410.6 L 636.4 413.9 L 643.9 413.9 L 647.6 410.6 M 636.4 413.9 L 636.4 411.4 M 643.9 413.9 L 643.9 411.4"/>
<path d="M 641.4 395.1 L 668.9 393.3"/>
<path d="M 575 467.7 L 604.6 483.9 L 600.1 495.2 L 569.5 477.7 Z"/>
<ellipse cx="578.8" cy="476.4" rx="2.3" ry="3.3" transform="rotate(-20 578.8 476.4)" shape-rendering="geometricPrecision" stroke-width="1.1"/>
<path d="M 590.1 483.9 L 596.3 486.4 M 583.1 478.7 L 588.8 480.7"/>
<path d="M 545 457.2 L 573.8 472.7"/>
<path d="M 545 457.2 L 562 462.9 L 558.8 466.9 Z" fill="#000"/>
<path d="M 605.6 485.2 L 641.4 475.2 M 604.6 490.2 L 622.6 500.2"/>
<path d="M 622.6 498.9 L 635.1 506.5 M 621.4 505.2 L 633.9 512.7 M 622.6 498.9 C 620.6 500.7 620.1 503.2 621.4 505.2 M 627.1 501.4 L 625.6 507.7 M 630.6 503.7 L 629.4 509.7"/>
<ellipse cx="641.4" cy="511.5" rx="8" ry="8.5"/>
<ellipse cx="639.1" cy="511.5" rx="4.3" ry="5.5" transform="rotate(15 639.1 511.5)"/>
<path d="M 645.1 519 L 652.1 537.2 M 540 524 L 561.3 528.2"/>
<path d="M 579.2 500 L 562.6 528.4 L 553.4 545 C 549.2 551.7 547.5 558.4 548.4 570.1 L 555 595.1 C 555.9 599.3 558.4 601.4 561.7 601.4"/>
<path d="M 596.1 500 L 570.1 543.4 C 565.1 550.1 560.9 558.4 561.7 570.1 L 568.4 591.8 C 569.2 597.6 566.7 600.9 561.7 601.4"/>
<path d="M 533.4 523.4 L 562.6 528.4"/>
<ellipse cx="567.2" cy="614.3" rx="9.7" ry="7.3" transform="rotate(-15 567.2 614.3)"/>
<ellipse cx="567.2" cy="614.8" rx="8" ry="5.3" transform="rotate(-15 567.2 614.8)"/>
<path d="M 558.4 613.5 L 555 618.5 L 560.9 621.8 L 565.9 621 M 559.2 617.6 L 563.7 619.8"/>
<path d="M 576.7 610.1 L 603.4 596.8"/>
<ellipse cx="571.4" cy="631.7" rx="7.5" ry="5" transform="rotate(-10 571.4 631.7)" stroke-width="1.6"/>
<path d="M 563.9 633.3 L 573.4 668.4 C 575.9 672.6 584.3 672.6 588.1 667.6 L 588.4 664.2 L 579.2 629.2"/>
<path d="M 579.2 644.2 L 584.3 647.5 M 580.1 649.2 L 585.4 652.5 M 580.9 655 L 586.4 658.7 M 582.1 660 L 586.8 662.5"/>
<path d="M 584.3 641.7 L 611.8 630.3"/>
<ellipse cx="585.4" cy="684.2" rx="10.3" ry="7.8" transform="rotate(-15 585.4 684.2)"/>
<ellipse cx="585.4" cy="684.7" rx="8.3" ry="5.7" transform="rotate(-15 585.4 684.7)"/>
<path d="M 575.9 685.9 L 574.2 690.1 L 580.1 693.4 M 579.2 690.1 L 583.4 692.1"/>
<path d="M 595.9 681.7 L 623.8 668.4"/>
<path d="M 547.5 691.7 L 563.4 692.9 C 565.9 694.2 565.9 697.6 564.2 701.8 L 547.5 721.8 L 531.7 722.1 C 528.3 720.9 527.5 717.6 528.3 714.3 L 540 699.3 C 542.5 695.1 545 692.6 547.5 691.7"/>
<ellipse cx="546.7" cy="707.6" rx="6.3" ry="10" transform="rotate(30 546.7 707.6)"/>
<ellipse cx="561.4" cy="698.1" rx="2" ry="3" transform="rotate(30 561.4 698.1)" shape-rendering="geometricPrecision" stroke-width="1.1"/>
<ellipse cx="532.2" cy="715.9" rx="1.8" ry="2.8" transform="rotate(30 532.2 715.9)" shape-rendering="geometricPrecision" stroke-width="1.1"/>
<path d="M 520 691.7 L 537.5 701.8"/>
<path d="M 556.7 734.3 C 556.7 730.1 561.7 721.8 568.4 714.3 C 571.7 710.1 576.7 707.6 582.6 707.6 L 585.9 708.4 M 559.2 736 C 560.9 728.5 568.4 718.4 575.1 714.3 L 585.9 710.9"/>
<path d="M 556.7 734.3 L 557.5 736.8 L 562.6 740.1 L 566.7 739.3 M 562.6 740.1 L 581.7 744.3 L 565.9 753.5"/>
<ellipse cx="566.4" cy="734.3" rx="1.8" ry="2.8" transform="rotate(30 566.4 734.3)" shape-rendering="geometricPrecision" stroke-width="1.1"/>
<path d="M 574.2 736.8 C 572.6 730.1 574.2 723.4 579.2 718.4 L 586.8 716.8 M 568.4 735.1 L 580.1 742.6 M 574.2 736.8 L 596.8 748.5"/>
<ellipse cx="592.1" cy="710.1" rx="5.8" ry="4.5" transform="rotate(-10 592.1 710.1)"/>
<path d="M 586.4 710.9 L 593.4 735.1 C 595.9 737.6 600.9 736.8 603.4 734.3 M 598.1 710.1 L 604.3 728.5"/>
<ellipse cx="717.4" cy="575.9" rx="22.5" ry="18.7" transform="rotate(-10 717.4 575.9)"/>
<ellipse cx="717.4" cy="576.4" rx="20.4" ry="16.4" transform="rotate(-10 717.4 576.4)"/>
<ellipse cx="717.9" cy="576.4" rx="17" ry="13" transform="rotate(-10 717.9 576.4)"/>
<ellipse cx="718.3" cy="576.4" rx="14.2" ry="10.3" transform="rotate(-10 718.3 576.4)"/>
<path d="M 696.6 580.1 L 698.3 591.7 C 704.1 598.4 714.1 600.1 724.1 596.7 L 727.5 593.4 M 694.9 571.7 L 696.6 581.7 M 709.1 575.9 L 727.5 566.7 M 698.3 586.7 C 704.1 593.4 714.1 595.4 725 592.6"/>
<path d="M 699.1 594.2 L 690.7 620.1 L 659.9 682 M 721.6 598.4 L 712.4 623.4 L 682.4 682 M 690.7 620.1 C 694.1 623.4 699.1 624.8 704.1 624.3 M 709.9 600.9 L 705.8 612.6 L 714.1 613.1 M 709.9 600.9 L 720.8 599.2"/>
<path d="M 699.9 578.4 L 704.9 577.6 L 705.8 583.4 L 700.8 582.6 Z" stroke-width="1.5"/>
<path d="M 727.5 565.9 L 734.1 560 M 732.8 559.5 L 748.3 552 M 737.1 565.2 L 751.2 557.5"/>
<ellipse cx="735.8" cy="562" rx="1.8" ry="3.2" transform="rotate(-25 735.8 562)" shape-rendering="geometricPrecision" stroke-width="1.1"/>
<ellipse cx="738.8" cy="560.4" rx="1.8" ry="3.2" transform="rotate(-25 738.8 560.4)" shape-rendering="geometricPrecision" stroke-width="1.1"/>
<ellipse cx="741.8" cy="558.7" rx="1.8" ry="3.2" transform="rotate(-25 741.8 558.7)" shape-rendering="geometricPrecision" stroke-width="1.1"/>
<ellipse cx="744.8" cy="557.2" rx="1.8" ry="3.2" transform="rotate(-25 744.8 557.2)" shape-rendering="geometricPrecision" stroke-width="1.1"/>
<ellipse cx="753.3" cy="550.4" rx="6.2" ry="7.5" transform="rotate(-15 753.3 550.4)"/>
<ellipse cx="751.8" cy="550.9" rx="3.7" ry="5" transform="rotate(-15 751.8 550.9)"/>
<path d="M 694.9 585.1 L 668.2 600.4"/>
<path d="M 668.2 600.4 L 681.2 589.7 L 683.2 593.7 Z" fill="#000"/>
<path d="M 664 598.4 C 660.7 594.7 654 595.6 654 603.4 C 654 612.1 660.7 612.9 664.4 608.4"/>
<path d="M 649.9 530 C 650.4 533.3 651.5 535.8 652.7 537.5"/>
<path d="M 465.1 500 L 465.9 523.4 L 457.6 553.4 L 454.3 563.4 M 471.5 500 L 472.6 525 L 466.8 553.4 L 466.8 565.1 M 465.1 523.4 L 470.1 523.4 M 457.6 553.4 C 460.1 555.1 463.4 555.4 466.8 554.2"/>
<ellipse cx="462.6" cy="570.9" rx="4.8" ry="6.7" transform="rotate(20 462.6 570.9)"/>
<ellipse cx="462.6" cy="571.2" rx="2.7" ry="4" transform="rotate(20 462.6 571.2)" shape-rendering="geometricPrecision" stroke-width="1.1"/>
<path d="M 454.3 563.4 C 450.1 565.9 449.3 571.7 451.8 575.1 L 458.4 577.6"/>
<path d="M 453.4 576.8 L 442.6 599.8"/>
<path d="M 420.1 551.7 L 387 573.4"/>
<ellipse cx="442.1" cy="558.7" rx="4.2" ry="5.7" transform="rotate(20 442.1 558.7)"/>
<ellipse cx="442.1" cy="559.1" rx="2.2" ry="3.2" transform="rotate(20 442.1 559.1)" shape-rendering="geometricPrecision" stroke-width="1.1"/>
<path d="M 437.6 564.2 L 413.4 587.6"/>
<ellipse cx="475.5" cy="578.4" rx="3.8" ry="5.5" transform="rotate(20 475.5 578.4)"/>
<ellipse cx="475.5" cy="578.8" rx="1.8" ry="3" transform="rotate(20 475.5 578.8)" shape-rendering="geometricPrecision" stroke-width="1.1"/>
<path d="M 474.3 584.3 L 467.1 614.8"/>
<path d="M 484.3 581.4 L 499.3 590.6 M 481.5 586.1 L 496.3 595.6 M 484.3 581.4 C 482.3 582.3 481.1 584.3 481.5 586.1 M 486.8 583.4 L 484.8 587.1 M 489.3 584.9 L 487.3 588.6 M 491.8 586.4 L 489.8 590.1 M 494.3 587.9 L 492.3 591.6 M 496.8 589.4 L 494.8 593.1"/>
<path d="M 494.7 593.4 L 495.5 632.6"/>
<path d="M 283 553 L 527 696"/>
<path d="M 275.8 463.3 L 331.3 495.5 M 353.8 508 L 415 542.5"/>
<path shape-rendering="geometricPrecision" stroke-width="1.05" d="M 329.3 269.3 L 336.5 269.3 M 333.8 265.8 L 333.8 277.4 L 332.9 276.6 M 333.8 269.3 L 329.3 275.7"/>
<path shape-rendering="geometricPrecision" stroke-width="1.05" d="M 348.2 265.8 L 342.8 271.6 M 346 269.3 L 346 277.4"/>
<path shape-rendering="geometricPrecision" stroke-width="1.05" d="M 356.3 267 L 356.3 272.8 C 356.3 275.1 355.4 276.8 354.1 277.4 M 359 265.8 L 359 276.8 L 362.2 272.8"/>
<path shape-rendering="geometricPrecision" stroke-width="1.05" d="M 367.1 267.5 L 374.3 267.5 C 374.3 271.6 371.6 275.7 368 277.4"/>
<path shape-rendering="geometricPrecision" stroke-width="1.05" d="M 386 268.7 L 381.5 273.7 M 383.8 271.4 L 383.8 277.4"/>
<path shape-rendering="geometricPrecision" stroke-width="1.05" d="M 393.2 266.4 L 398.6 266.4 M 392.3 269.9 L 399.5 269.9 C 399.5 273.3 397.3 276.2 394.1 277.4"/>
<path shape-rendering="geometricPrecision" stroke-width="1.05" d="M 408.5 265.8 L 406.3 268.7 L 410.8 268.7 M 409.9 267.5 L 411.2 269.3 M 404.5 270.4 L 412.6 270.4 M 408.5 268.7 L 404.9 273.9 M 408.5 269.9 L 412.6 273.9 M 409.4 272.2 L 406.7 274.5 M 410.3 273.3 L 406.3 276.2 M 411.2 274.5 L 405.8 278"/>
<path shape-rendering="geometricPrecision" stroke-width="1.05" d="M 417.1 266.4 L 420.2 266.4 L 420.2 272.8 L 417.1 272.8 Z M 417.1 269.5 L 420.2 269.5 M 421.6 266.4 L 425.2 266.4 L 424.7 269.3 M 423.4 266.4 L 421.6 269.3 M 421.6 270.2 L 425.2 270.2 L 425.2 273.3 L 421.6 273.3 Z M 417.5 275.1 L 417.1 277.4 M 419.8 275.1 L 420 277.4 M 422 275.1 L 422.5 277.4 M 424.2 275.1 L 425.2 277.4"/>
<path shape-rendering="geometricPrecision" stroke-width="1.05" d="M 479 184 L 476.3 189.8 M 479 185.7 L 483.5 185.7 C 483.5 189.8 480.8 193.9 477.2 195.6 M 478.5 189.2 L 481.7 191.5"/>
<path shape-rendering="geometricPrecision" stroke-width="1.05" d="M 488.6 189.8 L 496.8 189.8"/>
<path shape-rendering="geometricPrecision" stroke-width="1.05" d="M 501.9 187.5 L 508.6 187.5 M 505.5 184 L 505.5 195.6 L 504.6 194.8 M 503.2 190.4 L 501.9 193.9 M 507.8 190.4 L 509.1 193.9 M 508 184 L 508.6 185.5 M 509.3 183.4 L 509.9 184.9"/>
<path shape-rendering="geometricPrecision" stroke-width="1.05" d="M 521 184.6 L 515.6 186.3 M 514.2 189.2 L 522.3 189.2 M 518.8 185.7 L 518.8 189.8 C 518.8 192.7 517.4 194.4 515.6 195.6"/>
<path shape-rendering="geometricPrecision" stroke-width="1.05" d="M 528.4 190.4 L 534.7 188.6 L 532.9 192.7 M 530.6 187.5 L 532.5 195.6"/>
<path shape-rendering="geometricPrecision" stroke-width="1.05" d="M 539.9 189.8 L 547.9 189.8"/>
<path shape-rendering="geometricPrecision" stroke-width="1.05" d="M 553.5 185.2 L 555.3 186.9 M 552.6 188.6 L 554.4 190.4 M 553.1 195.6 C 556.7 194.4 559.4 191 560.3 187.5 M 558.5 184 L 559.2 185.5 M 560 183.4 L 560.7 184.9"/>
<path shape-rendering="geometricPrecision" stroke-width="1.05" d="M 566.8 190.4 L 573.1 188.6 L 571.3 192.7 M 569 187.5 L 570.9 195.6"/>
<path shape-rendering="geometricPrecision" stroke-width="1.05" d="M 630.5 759.4 L 637.7 759.4 M 635 755.6 L 635 768.4 L 634.1 767.5 M 635 759.4 L 630.5 766.5"/>
<path shape-rendering="geometricPrecision" stroke-width="1.05" d="M 649.7 755.6 L 644.2 762 M 647.4 759.4 L 647.4 768.4"/>
<path shape-rendering="geometricPrecision" stroke-width="1.05" d="M 658.1 756.9 L 658.1 763.3 C 658.1 765.8 657.1 767.8 655.8 768.4 M 660.8 755.6 L 660.8 767.8 L 663.9 763.3"/>
<path shape-rendering="geometricPrecision" stroke-width="1.05" d="M 669.2 757.5 L 676.4 757.5 C 676.4 762 673.7 766.5 670.1 768.4"/>
<path shape-rendering="geometricPrecision" stroke-width="1.05" d="M 688.4 758.8 L 683.9 764.3 M 686.2 761.7 L 686.2 768.4"/>
<path shape-rendering="geometricPrecision" stroke-width="1.05" d="M 695.9 756.2 L 701.3 756.2 M 695 760.1 L 702.2 760.1 C 702.2 763.9 699.9 767.1 696.8 768.4"/>
<path d="M 301.3 609.4 C 302.6 605.1 310.6 604.6 310.8 610.6 L 310.8 622.2 M 310.8 613.9 C 305.6 613.4 300.8 615.1 300.8 618.9 C 300.8 623.4 309.1 622.7 310.8 618.2"/>
<path d="M 580.2 149.9 L 580.2 171.3 M 580.2 162.5 C 580.6 157.1 590.1 156.1 590.1 163.7 C 590.1 173.2 580.6 172.7 580.2 167.2"/>
<path d="M 659.4 682.1 C 651 701 642.6 717.8 632 728.4 C 625.7 733.6 617.3 735.7 611 733.6 L 604.1 728.4"/>
<path d="M 681.9 682.1 L 674.1 698.9 C 667.8 713.6 659.4 730.5 646.8 743.1 C 636.3 751.5 621.5 755.7 611 754.7 C 602.6 753.6 599.5 751.1 596.7 748.3"/>
<path d="M 565.5 754.4 L 572.9 758.6 M 572.9 757.6 L 588.6 765.5 M 571.8 762.3 L 586 770.2 M 572.9 757.6 C 571.8 758.6 571.5 760.7 571.8 762.3 M 576 759 L 574.4 763.4 M 579.7 760.7 L 578.1 765.5 M 583.4 762.5 L 581.8 767.3 M 586.5 764.2 L 585 768.8"/>
<path d="M 588.6 765.5 C 590.7 761.8 596.5 761.3 598.6 764.9 C 600.7 768.6 599.7 774.9 596 777.2 C 591.8 778.6 586.5 777.6 585.3 774.4 C 584.4 771.8 585 768.6 586 767 M 587.6 766.5 C 586.5 769.7 586.5 772.8 587.6 775.5 L 591.3 776 L 591.8 771.8 L 588.6 766.5 M 591.8 771.8 L 597 766.5 M 591.3 776 L 596 777.2"/>
<path d="M 500.6 590.1 L 505.9 588.7 L 510.5 591.4 L 510.5 596 L 505.2 601.9 L 501.3 600.6 L 498 598 L 498 594 M 500.6 590.1 L 498 594 M 501.3 600.6 L 501.9 594.7 L 505.9 588.7 M 501.9 594.7 L 510.5 596"/>
<path d="M 531.7 446.7 C 532.6 443 540.9 442.5 541.2 448.4 L 541.2 460 M 541.2 451.7 C 535.9 451.4 530.9 452.5 530.9 455.9 C 530.9 460.9 539.7 460 541.2 455.9"/>
<path shape-rendering="geometricPrecision" stroke-width="1.05" d="M 310.6 285.9 C 310 283.5 305.9 283.3 305.7 286.4 C 305.6 289 310.6 289 310.6 291.6 C 310.6 294.8 306.2 294.7 305.5 292.1"/>
<path shape-rendering="geometricPrecision" stroke-width="1.05" d="M 314.2 290.4 L 319.2 290.4 C 319.2 286.1 314.2 286.1 314.2 290.6 C 314.2 295.2 318.6 294.8 319.2 292.7"/>
<path shape-rendering="geometricPrecision" stroke-width="1.05" d="M 322.8 290.4 L 327.8 290.4 C 327.8 286.1 322.8 286.1 322.8 290.6 C 322.8 295.2 327.2 294.8 327.8 292.7"/>
<path shape-rendering="geometricPrecision" stroke-width="1.05" d=""/>
<path shape-rendering="geometricPrecision" stroke-width="1.05" d="M 342.5 286.9 C 339.3 286.9 339.3 294.2 342.5 294.2 C 345.6 294.2 345.6 286.9 342.5 286.9 Z"/>
<path shape-rendering="geometricPrecision" stroke-width="1.05" d="M 353 284.3 C 351.1 283.3 350.5 284.8 350.5 286.9 L 350.5 294.2 M 348.9 287.4 L 352.7 287.4"/>
<path shape-rendering="geometricPrecision" stroke-width="1.05" d=""/>
<path shape-rendering="geometricPrecision" stroke-width="1.05" d="M 368.3 283.8 C 365.1 283.8 365.1 294.2 368.3 294.2 C 371.4 294.2 371.4 283.8 368.3 283.8 Z"/>
<path shape-rendering="geometricPrecision" stroke-width="1.05" d="M 376.9 286.9 L 376.9 294.2 M 376.9 283.8 L 376.9 284.8"/>
<path shape-rendering="geometricPrecision" stroke-width="1.05" d="M 385.5 283.8 L 385.5 294.2"/>
<path shape-rendering="geometricPrecision" stroke-width="1.05" d=""/>
<path shape-rendering="geometricPrecision" stroke-width="1.05" d="M 400.2 294.2 L 400.2 283.8 L 405.2 283.8 M 400.2 289 L 404 289"/>
<path shape-rendering="geometricPrecision" stroke-width="1.05" d="M 411.3 286.9 L 411.3 294.2 M 411.3 283.8 L 411.3 284.8"/>
<path shape-rendering="geometricPrecision" stroke-width="1.05" d="M 419.9 283.8 L 419.9 294.2"/>
<path shape-rendering="geometricPrecision" stroke-width="1.05" d="M 428.5 283.8 L 428.5 294.2"/>
<path shape-rendering="geometricPrecision" stroke-width="1.05" d="M 434.6 290.4 L 439.6 290.4 C 439.6 286.1 434.6 286.1 434.6 290.6 C 434.6 295.2 439 294.8 439.6 292.7"/>
<path shape-rendering="geometricPrecision" stroke-width="1.05" d="M 443.8 286.9 L 443.8 294.2 M 443.8 289.5 C 444.4 287.4 446.3 286.4 448.2 287.4"/>
<path shape-rendering="geometricPrecision" stroke-width="1.05" d="M 474.2 201.3 L 479.9 201.3 M 477 201.3 L 477 211.7"/>
<path shape-rendering="geometricPrecision" stroke-width="1.05" d="M 483.3 204.4 L 483.3 209.1 C 483.3 212.7 487.7 212.2 487.7 208.6 M 487.7 204.4 L 487.7 211.7"/>
<path shape-rendering="geometricPrecision" stroke-width="1.05" d="M 492.1 204.4 L 492.1 211.7 M 492.1 207 C 492.8 204.9 494.7 203.9 496.5 204.9"/>
<path shape-rendering="geometricPrecision" stroke-width="1.05" d="M 500.3 201.3 L 500.3 211.7 M 500.3 207.5 C 500.6 203.4 505 203.4 505 208.1 C 505 212.7 500.6 212.7 500.3 208.6"/>
<path shape-rendering="geometricPrecision" stroke-width="1.05" d="M 511 204.4 C 507.9 204.4 507.9 211.7 511 211.7 C 514.2 211.7 514.2 204.4 511 204.4 Z"/>
<path shape-rendering="geometricPrecision" stroke-width="1.05" d="M 522 206 C 520.8 203.4 517 203.9 517 208.1 C 517 212.2 520.8 212.7 522 210.1"/>
<path shape-rendering="geometricPrecision" stroke-width="1.05" d="M 525.8 201.3 L 525.8 211.7 M 525.8 207.5 C 526.1 203.9 530.2 203.4 530.2 207.5 L 530.2 211.7"/>
<path shape-rendering="geometricPrecision" stroke-width="1.05" d="M 534.3 206 C 535.2 203.9 538.7 203.9 538.7 207 L 538.7 211.7 M 538.7 207.5 C 535.8 207.5 534 208.1 534 209.8 C 534 212.5 538.1 212.2 538.7 209.6"/>
<path shape-rendering="geometricPrecision" stroke-width="1.05" d="M 543.1 204.4 L 543.1 211.7 M 543.1 207 C 543.7 204.9 545.6 203.9 547.5 204.9"/>
<path shape-rendering="geometricPrecision" stroke-width="1.05" d="M 555.7 206.7 C 555.7 203.6 551.3 203.6 551.3 206.7 C 551.3 209.6 555.7 209.6 555.7 206.7 M 555.7 204.4 L 555.7 209.6 C 555.7 212.3 552.8 212.2 551.6 211.2"/>
<path shape-rendering="geometricPrecision" stroke-width="1.05" d="M 559.4 207.9 L 564.5 207.9 C 564.5 203.6 559.4 203.6 559.4 208.1 C 559.4 212.7 563.8 212.3 564.5 210.2"/>
<path shape-rendering="geometricPrecision" stroke-width="1.05" d="M 568.5 204.4 L 568.5 211.7 M 568.5 207 C 569.2 204.9 571.1 203.9 573 204.9"/>
<path shape-rendering="geometricPrecision" stroke-width="1.05" d="M 625.8 773.4 C 622.7 773.4 622.7 784 625.8 784 C 629 784 629 773.4 625.8 773.4 Z"/>
<path shape-rendering="geometricPrecision" stroke-width="1.05" d="M 634.5 776.6 L 634.5 784 M 634.5 773.4 L 634.5 774.5"/>
<path shape-rendering="geometricPrecision" stroke-width="1.05" d="M 643.2 773.4 L 643.2 784"/>
<path shape-rendering="geometricPrecision" stroke-width="1.05" d=""/>
<path shape-rendering="geometricPrecision" stroke-width="1.05" d="M 658.1 784 L 658.1 773.4 L 663.1 773.4 M 658.1 778.7 L 661.9 778.7"/>
<path shape-rendering="geometricPrecision" stroke-width="1.05" d="M 669.3 776.6 L 669.3 784 M 669.3 773.4 L 669.3 774.5"/>
<path shape-rendering="geometricPrecision" stroke-width="1.05" d="M 678 773.4 L 678 784"/>
<path shape-rendering="geometricPrecision" stroke-width="1.05" d="M 686.7 773.4 L 686.7 784"/>
<path shape-rendering="geometricPrecision" stroke-width="1.05" d="M 692.9 780.1 L 697.9 780.1 C 697.9 775.7 692.9 775.7 692.9 780.3 C 692.9 785.1 697.3 784.6 697.9 782.5"/>
<path shape-rendering="geometricPrecision" stroke-width="1.05" d="M 702.2 776.6 L 702.2 784 M 702.2 779.2 C 702.8 777.1 704.7 776 706.6 777.1"/>
<path shape-rendering="geometricPrecision" stroke-width="1.05" d="M 674.1 902.3 C 672 902.3 672 910.6 674.1 910.6 C 676.2 910.6 676.2 902.3 674.1 902.3 Z"/>
<path shape-rendering="geometricPrecision" stroke-width="1.05" d="M 684.8 902.3 C 682.7 902.3 682.7 910.6 684.8 910.6 C 686.9 910.6 686.9 902.3 684.8 902.3 Z"/>
<path shape-rendering="geometricPrecision" stroke-width="1.05" d="M 695.5 902.3 C 693.4 902.3 693.4 910.6 695.5 910.6 C 697.6 910.6 697.6 902.3 695.5 902.3 Z"/>
<path shape-rendering="geometricPrecision" stroke-width="1.05" d="M 704.4 904.4 C 704.6 901.9 708 901.9 708 904.6 C 708 906.9 704.6 908.1 704.1 910.6 L 708.3 910.6"/>
<path shape-rendering="geometricPrecision" stroke-width="1.05" d="M 715.9 904 L 717.2 902.3 L 717.2 910.6"/>
<path shape-rendering="geometricPrecision" stroke-width="1.05" d="M 727.6 902.3 C 725.5 902.3 725.5 910.6 727.6 910.6 C 729.7 910.6 729.7 902.3 727.6 902.3 Z"/>
<path shape-rendering="geometricPrecision" stroke-width="1.05" d="M 738.3 902.3 C 736.2 902.3 736.2 906.3 738.3 906.3 C 740.6 906.3 740.6 910.6 738.3 910.6 C 736 910.6 736 906.3 738.3 906.3 C 740.4 906.3 740.4 902.3 738.3 902.3 Z"/>
<path shape-rendering="geometricPrecision" stroke-width="1.05" d="M 749 902.3 C 746.9 902.3 746.9 906.3 749 906.3 C 751.3 906.3 751.3 910.6 749 910.6 C 746.7 910.6 746.7 906.3 749 906.3 C 751.1 906.3 751.1 902.3 749 902.3 Z"/>
<path d="M 483 435.4 C 483.8 434.2 485.8 433.8 487.7 434.6 L 492.9 437 M 483 435.4 C 482.6 437 483 438.9 484.2 439.7 L 489.3 442.9 M 487.7 434.6 C 487 435.8 486.6 438.1 487.7 440.5 M 490.1 435.8 C 489.3 437.4 489.3 439.7 490.1 442.1 M 492.9 437 L 493.3 438.5 M 492.9 442.9 L 493.7 445.2"/>
<path d="M 493.7 438.9 L 507.1 446.4 M 493.3 445.2 L 503.9 451.2"/>
<path d="M 507.1 446.4 L 508.6 443.7 L 513.8 443.3 L 514.9 446.4 L 517.7 450 L 516.5 453.9 L 513 458.5 L 509 458.6 M 503.5 451.5 C 503.1 453.9 503.5 457.1 504.7 458.5 L 507.8 458.6 L 508.2 454.7 L 505.1 451.5 L 503.5 451.5 M 508.2 454.7 L 514.2 446 M 505.1 451.5 L 505.1 447.6 L 507.1 446.4 M 509 458.6 L 508.2 454.7"/>
<path d="M 413 542.7 C 413.8 541.2 415.4 540.8 417 541.6 L 419.7 542.7 M 413 542.7 C 412.6 544.3 413.4 546.3 414.6 547.1 L 417 548.3 M 417 541.6 C 416.2 543.1 416.2 545.5 417 548.3 M 419.7 542.7 L 418.5 548.7 M 417 548.3 L 417.7 550.2 L 420.9 551.4"/>
<path d="M 419.7 542.7 L 426 544.3 L 431.1 544.7 C 433.9 545.9 435.1 548.7 434.3 551.4 C 433.1 555.4 430.4 558.5 426.8 558.5 L 422.9 556.5 L 420.9 554.2 L 420.9 551.4 M 421.7 548.7 C 420.9 551 421.3 554.2 422.9 556.5 M 426 544.3 C 424.4 547.1 424 551 425.2 555 L 426.8 558.5"/>
<ellipse cx="430.4" cy="551.4" rx="2.4" ry="4.3" transform="rotate(15 430.4 551.4)" shape-rendering="geometricPrecision" stroke-width="1.1"/>
</svg>
</body></html>
